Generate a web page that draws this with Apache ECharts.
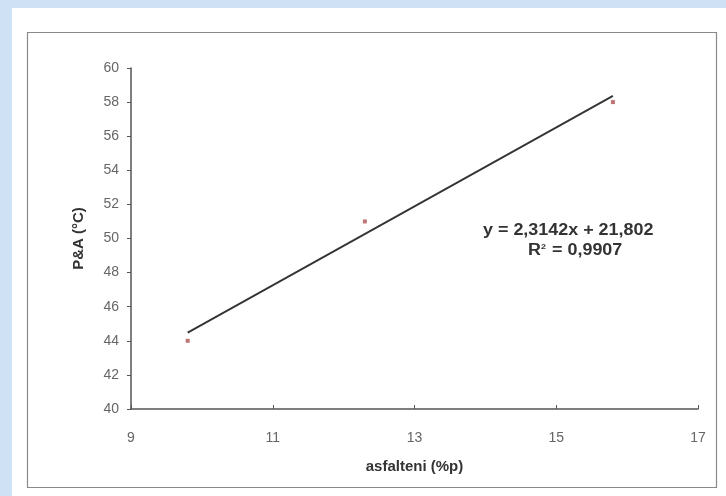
<!DOCTYPE html>
<html>
<head>
<meta charset="utf-8">
<script src="https://cdn.jsdelivr.net/npm/echarts@6/dist/echarts.min.js"></script>
<style>
html,body{margin:0;padding:0;background:#cfe1f4;}
#chart{width:726px;height:496px;}
</style>
</head>
<body>
<div id="chart"></div>
<script>
// Data
const asfalteni = [9.8, 12.3, 15.8];      // x values (%p)
const pa = [44, 51, 58];                  // y values (°C)
const slope = 2.3142;
const intercept = 21.802;
const r2Text = '0,9907';
const xTicks = [9, 11, 13, 15, 17];
const yTicks = [40, 42, 44, 46, 48, 50, 52, 54, 56, 58, 60];

const points = asfalteni.map((x, i) => [x, pa[i]]);
const xMinData = Math.min(...asfalteni), xMaxData = Math.max(...asfalteni);
const trend = [[xMinData, slope * xMinData + intercept], [xMaxData, slope * xMaxData + intercept]];

const FONT = '"Liberation Sans", Arial, sans-serif';
const chart = echarts.init(document.getElementById('chart'));
chart.setOption({
  backgroundColor: 'transparent',
  animation: false,
  graphic: [
    { type: 'rect', z: -10, shape: { x: 12, y: 8, width: 714, height: 488 }, style: { fill: '#ffffff' } },
    { type: 'rect', z: -9, shape: { x: 27.5, y: 32.5, width: 689, height: 455 }, style: { fill: '#ffffff', stroke: '#8a8a8a', lineWidth: 1.2 } },
    { type: 'text', x: 483, y: 223, scaleX: 1.12, z: 10,
      style: { text: 'y = 2,3142x + 21,802', font: 'bold 16px ' + FONT, fill: '#333' } },
    { type: 'text', x: 528, y: 243, scaleX: 1.12, z: 10,
      style: { rich: { a: { fontFamily: FONT, fontWeight: 'bold', fontSize: 16, fill: '#333' }, s: { fontFamily: FONT, fontWeight: 'bold', fontSize: 8, fill: '#333', verticalAlign: 'top', padding: [0,1,8,0] } },
               text: '{a|R}{s|2}{a| = ' + r2Text + '}' } }
  ],
  grid: { left: 131, right: 28, top: 68, bottom: 87, containLabel: false },
  xAxis: {
    type: 'value', min: 9, max: 17, interval: 2,
    name: 'asfalteni (%p)', nameLocation: 'middle', nameGap: 50,
    nameTextStyle: { fontFamily: FONT, fontWeight: 'bold', fontSize: 15, color: '#333' },
    axisLine: { lineStyle: { color: '#555', width: 1.5 } },
    axisTick: { show: true, inside: true, length: 4, lineStyle: { color: '#555' } },
    axisLabel: { margin: 22, fontFamily: FONT, fontSize: 14, color: '#666',
                 formatter: v => xTicks.includes(v) ? String(v) : '' },
    splitLine: { show: false }
  },
  yAxis: {
    type: 'value', min: 40, max: 60, interval: 2,
    name: 'P&A (°C)', nameLocation: 'middle', nameGap: 45, nameRotate: 90,
    nameTextStyle: { fontFamily: FONT, fontWeight: 'bold', fontSize: 15, color: '#333' },
    axisLine: { show: true, lineStyle: { color: '#555', width: 1.5 } },
    axisTick: { show: true, length: 4, lineStyle: { color: '#555' } },
    axisLabel: { margin: 12, fontFamily: FONT, fontSize: 14, color: '#666',
                 formatter: v => yTicks.includes(v) ? String(v) : '' },
    splitLine: { show: false }
  },
  series: [
    { type: 'line', data: trend, symbol: 'none', lineStyle: { color: '#333', width: 1.8 }, z: 2 },
    { type: 'scatter', data: points, symbol: 'rect', symbolSize: 4, itemStyle: { color: '#b05050' }, z: 3 }
  ]
});
</script>
</body>
</html>
